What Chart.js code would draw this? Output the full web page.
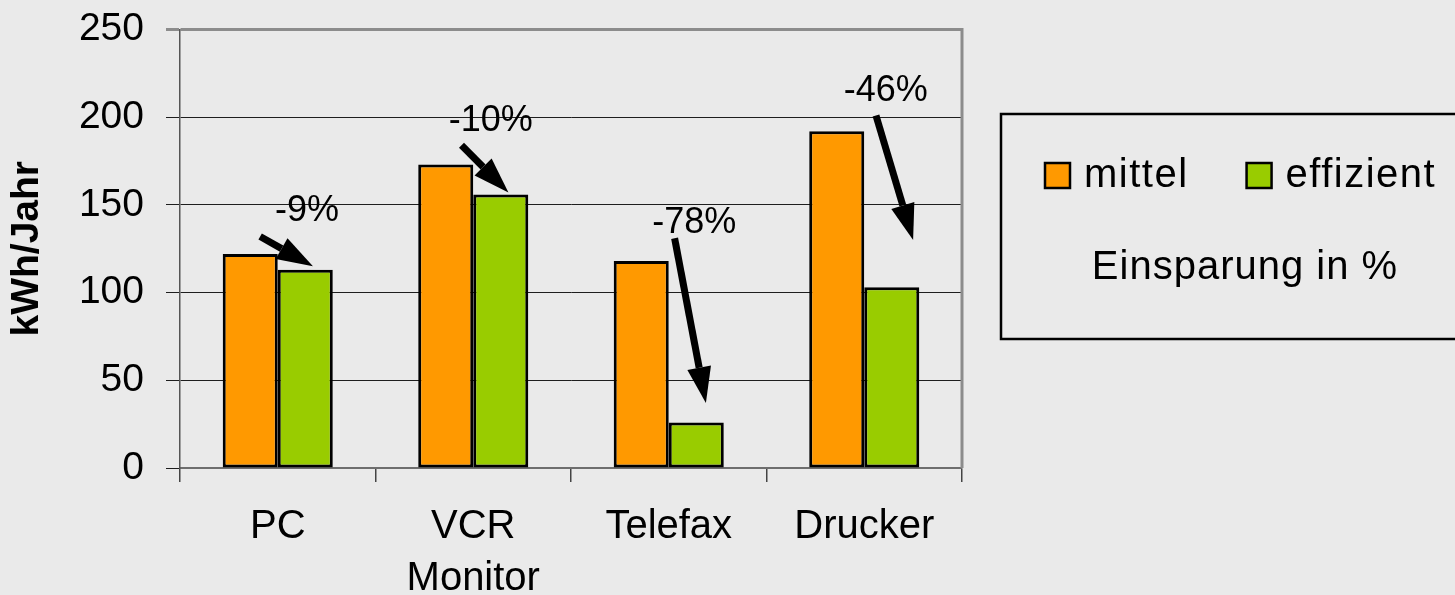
<!DOCTYPE html>
<html>
<head>
<meta charset="utf-8">
<title>Stromverbrauch Bürogeräte</title>
<script src="https://cdn.jsdelivr.net/npm/chart.js@4"></script>
<style>
  html, body { margin: 0; padding: 0; background: #eaeaea; }
  canvas { display: block; }
</style>
</head>
<body>
<canvas id="chart" width="1455" height="595"></canvas>
<script>
// data
const categories = ['PC', ['VCR', 'Monitor'], 'Telefax', 'Drucker'];
const mittel = [122, 173, 118, 192];
const effizient = [113, 156, 26, 103];
const savings = ['-9%', '-10%', '-78%', '-46%'];
const yTicks = [0, 50, 100, 150, 200, 250];

// annotation anchors in data units (category index, kWh/Jahr)
const arrows = [
    { from: [-0.09, 132], to: [0.18, 115], label: [0.15, 141] },
    { from: [0.94, 184], to: [1.18, 157], label: [1.09, 192] },
    { from: [2.03, 131], to: [2.19, 37], label: [2.13, 134] },
    { from: [3.06, 201], to: [3.25, 130], label: [3.11, 209] }
];

const FONT = "'Liberation Sans', Arial, sans-serif";

function drawArrow(ctx, x1, y1, x2, y2) {
    const headLen = 36, headW = 24;
    const ang = Math.atan2(y2 - y1, x2 - x1);
    const bx = x2 - headLen * Math.cos(ang);
    const by = y2 - headLen * Math.sin(ang);
    ctx.strokeStyle = '#000';
    ctx.lineWidth = 7;
    ctx.beginPath();
    ctx.moveTo(x1, y1);
    ctx.lineTo(bx, by);
    ctx.stroke();
    ctx.fillStyle = '#000';
    ctx.beginPath();
    ctx.moveTo(x2, y2);
    ctx.lineTo(bx + headW / 2 * Math.sin(ang), by - headW / 2 * Math.cos(ang));
    ctx.lineTo(bx - headW / 2 * Math.sin(ang), by + headW / 2 * Math.cos(ang));
    ctx.closePath();
    ctx.fill();
}

const decor = {
    id: 'decor',
    beforeDraw(chart) {
        const ctx = chart.ctx;
        ctx.save();
        ctx.fillStyle = '#eaeaea';
        ctx.fillRect(0, 0, chart.width, chart.height);
        ctx.restore();
    },
    afterDatasetsDraw(chart) {
        const ctx = chart.ctx;
        const x = chart.scales.x, y = chart.scales.y;
        const area = chart.chartArea;
        ctx.save();
        // right frame line
        ctx.strokeStyle = '#8c8c8c';
        ctx.lineWidth = 3;
        ctx.beginPath();
        ctx.moveTo(area.right, area.top - 1.5);
        ctx.lineTo(area.right, area.bottom);
        ctx.stroke();

        arrows.forEach(function (a, i) {
            drawArrow(ctx,
                x.getPixelForValue(a.from[0]), y.getPixelForValue(a.from[1]),
                x.getPixelForValue(a.to[0]), y.getPixelForValue(a.to[1]));
            ctx.fillStyle = '#000';
            ctx.font = '36px ' + FONT;
            ctx.textAlign = 'center';
            ctx.textBaseline = 'alphabetic';
            ctx.fillText(savings[i], x.getPixelForValue(a.label[0]), y.getPixelForValue(a.label[1]));
        });
        ctx.restore();
    },
    afterDraw(chart) {
        const ctx = chart.ctx;
        const area = chart.chartArea;
        const bx = area.right + 39, by = 114, bh = 225;
        ctx.save();
        ctx.strokeStyle = '#000';
        ctx.lineWidth = 2.5;
        ctx.strokeRect(bx, by, chart.width + 20 - bx, bh);

        ctx.font = '40px ' + FONT;
        ctx.letterSpacing = '1.5px';
        ctx.textAlign = 'left';
        ctx.textBaseline = 'alphabetic';
        let ix = bx + 44;
        chart.data.datasets.forEach(function (ds) {
            ctx.fillStyle = ds.backgroundColor;
            ctx.fillRect(ix, by + 49, 25, 25);
            ctx.lineWidth = 2.5;
            ctx.strokeStyle = '#000';
            ctx.strokeRect(ix, by + 49, 25, 25);
            ctx.fillStyle = '#000';
            ctx.fillText(ds.label, ix + 39, by + 73);
            ix += 39 + ctx.measureText(ds.label).width + 58;
        });
        ctx.letterSpacing = '1px';
        ctx.textAlign = 'center';
        ctx.fillText('Einsparung in %', bx + 244, by + 165);
        ctx.restore();
    }
};

new Chart(document.getElementById('chart'), {
    type: 'bar',
    data: {
        labels: categories,
        datasets: [
            {
                label: 'mittel',
                data: mittel,
                backgroundColor: '#ff9900',
                borderColor: '#000',
                borderWidth: 3,
                borderSkipped: false
            },
            {
                label: 'effizient',
                data: effizient,
                backgroundColor: '#99cc00',
                borderColor: '#000',
                borderWidth: 3,
                borderSkipped: false
            }
        ]
    },
    options: {
        responsive: false,
        animation: false,
        categoryPercentage: 0.563,
        barPercentage: 1,
        layout: { padding: { top: 29.5, right: 493, left: 0, bottom: 0 } },
        plugins: {
            legend: { display: false },
            tooltip: { enabled: false }
        },
        scales: {
            x: {
                offset: true,
                grid: {
                    offset: true,
                    drawOnChartArea: false,
                    tickLength: 14,
                    color: '#444',
                    lineWidth: 1.5
                },
                border: { color: '#6e6e6e', width: 2 },
                ticks: {
                    color: '#000',
                    padding: 19,
                    font: { family: FONT, size: 40, lineHeight: 1.3 }
                },
                afterFit(scale) { scale.height = 127; }
            },
            y: {
                min: 0,
                max: 250,
                afterBuildTicks(scale) {
                    scale.ticks = yTicks.map(function (v) { return { value: v }; });
                },
                grid: {
                    tickLength: 14,
                    color: function (c) { return c.tick && c.tick.value === 250 ? '#8c8c8c' : '#1e1e1e'; },
                    lineWidth: function (c) { return c.tick && c.tick.value === 250 ? 3 : 1; }
                },
                border: { color: '#555', width: 1.5 },
                ticks: {
                    color: '#000',
                    padding: 22,
                    font: { family: FONT, size: 39 }
                },
                title: {
                    display: true,
                    text: 'kWh/Jahr',
                    color: '#000',
                    padding: { top: 8, bottom: 0 },
                    font: { family: FONT, size: 39, weight: 'bold', lineHeight: 1 }
                },
                afterFit(scale) {
                    scale.width = 180;
                    scale.paddingTop = 0;
                    scale.paddingBottom = 0;
                }
            }
        }
    },
    plugins: [decor]
});
</script>
</body>
</html>
